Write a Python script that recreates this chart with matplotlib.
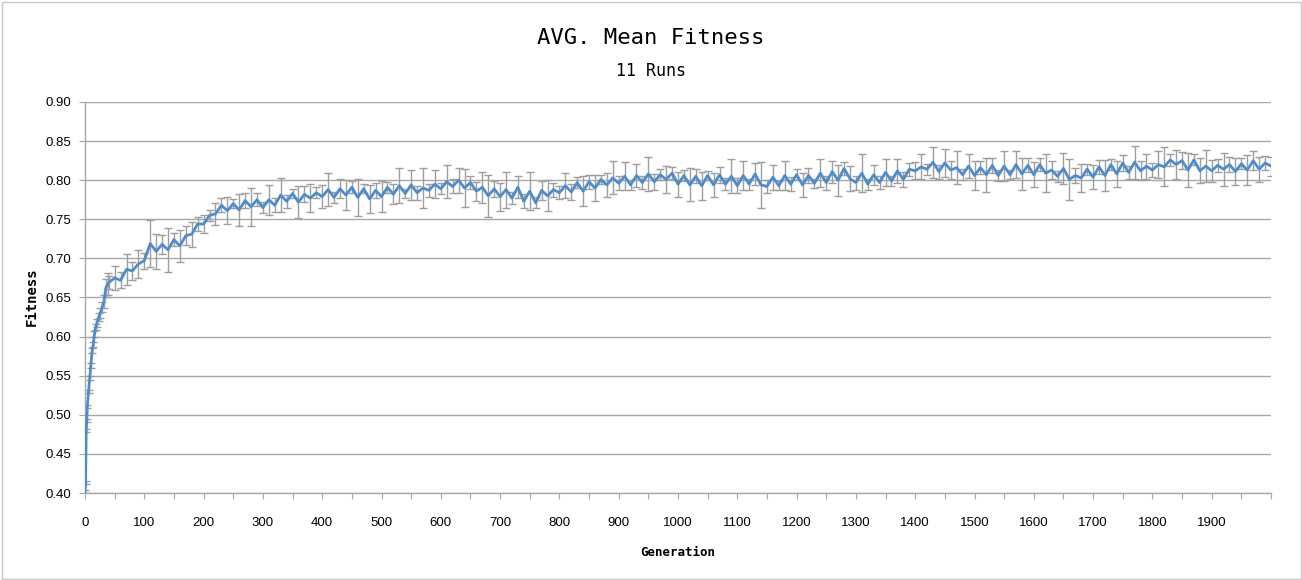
import matplotlib
matplotlib.use("Agg")
import matplotlib.pyplot as plt
from matplotlib.patches import Rectangle

TITLE = "AVG. Mean Fitness"
SUBTITLE = "11 Runs"
X_LABEL = "Generation"
Y_LABEL = "Fitness"

# early generations are sampled finer, the rest every 10 generations
early_generations = [0, 1, 2, 3, 4, 6, 8, 10, 12, 14, 16, 18, 20, 23, 26, 29, 32, 35, 38]
later_generations = list(range(40, 2001, 10))

early_fitness = [0.402, 0.413, 0.480, 0.493, 0.511, 0.530, 0.547, 0.563, 0.582, 0.590,
                 0.603, 0.612, 0.617, 0.625, 0.630, 0.638, 0.645, 0.662, 0.667]
later_fitness = [
	0.669, 0.675, 0.672, 0.686, 0.684, 0.693,
	0.697, 0.719, 0.709, 0.718, 0.711, 0.724, 0.716, 0.729, 0.731, 0.744,
	0.744, 0.755, 0.757, 0.768, 0.761, 0.770, 0.762, 0.774, 0.766, 0.775,
	0.765, 0.775, 0.768, 0.781, 0.773, 0.783, 0.772, 0.782, 0.777, 0.784,
	0.779, 0.788, 0.778, 0.789, 0.781, 0.791, 0.778, 0.789, 0.776, 0.787,
	0.779, 0.791, 0.782, 0.793, 0.783, 0.794, 0.784, 0.790, 0.787, 0.795,
	0.789, 0.798, 0.792, 0.800, 0.790, 0.797, 0.786, 0.791, 0.780, 0.789,
	0.779, 0.788, 0.777, 0.791, 0.773, 0.786, 0.771, 0.787, 0.780, 0.788,
	0.784, 0.793, 0.785, 0.797, 0.786, 0.798, 0.790, 0.801, 0.794, 0.803,
	0.796, 0.805, 0.794, 0.806, 0.797, 0.808, 0.798, 0.807, 0.801, 0.809,
	0.795, 0.806, 0.794, 0.805, 0.793, 0.806, 0.794, 0.807, 0.795, 0.805,
	0.793, 0.806, 0.795, 0.808, 0.794, 0.792, 0.804, 0.793, 0.806, 0.795,
	0.807, 0.794, 0.806, 0.796, 0.809, 0.797, 0.811, 0.800, 0.815, 0.802,
	0.797, 0.809, 0.795, 0.807, 0.797, 0.810, 0.799, 0.812, 0.801, 0.814,
	0.812, 0.817, 0.814, 0.823, 0.811, 0.822, 0.813, 0.816, 0.807, 0.818,
	0.806, 0.816, 0.807, 0.819, 0.806, 0.818, 0.807, 0.820, 0.808, 0.819,
	0.807, 0.820, 0.809, 0.813, 0.805, 0.815, 0.801, 0.806, 0.803, 0.814,
	0.804, 0.817, 0.806, 0.820, 0.808, 0.822, 0.810, 0.823, 0.812, 0.818,
	0.813, 0.820, 0.817, 0.826, 0.820, 0.825, 0.813, 0.826, 0.812, 0.818,
	0.812, 0.819, 0.814, 0.820, 0.811, 0.821, 0.813, 0.825, 0.814, 0.822,
	0.818,
]

early_error = [0.002, 0.002, 0.002, 0.002, 0.002, 0.002, 0.003, 0.003, 0.003, 0.003,
               0.004, 0.004, 0.005, 0.005, 0.006, 0.006, 0.008, 0.012, 0.014]
later_error = [
	0.008, 0.015, 0.010, 0.020, 0.012, 0.018,
	0.010, 0.030, 0.022, 0.012, 0.028, 0.008, 0.020, 0.012, 0.016, 0.009,
	0.012, 0.007, 0.014, 0.009, 0.017, 0.006, 0.020, 0.010, 0.024, 0.008,
	0.007, 0.019, 0.009, 0.022, 0.008, 0.006, 0.020, 0.010, 0.018, 0.007,
	0.015, 0.021, 0.007, 0.012, 0.019, 0.008, 0.024, 0.006, 0.018, 0.010,
	0.020, 0.007, 0.013, 0.022, 0.006, 0.019, 0.009, 0.025, 0.008, 0.018,
	0.007, 0.021, 0.009, 0.016, 0.024, 0.008, 0.012, 0.020, 0.027, 0.010,
	0.018, 0.023, 0.008, 0.014, 0.009, 0.024, 0.007, 0.012, 0.020, 0.009,
	0.008, 0.016, 0.010, 0.007, 0.019, 0.009, 0.017, 0.006, 0.015, 0.021,
	0.009, 0.018, 0.006, 0.015, 0.008, 0.022, 0.010, 0.007, 0.017, 0.008,
	0.016, 0.007, 0.021, 0.009, 0.018, 0.006, 0.015, 0.010, 0.008, 0.022,
	0.010, 0.019, 0.007, 0.014, 0.029, 0.008, 0.016, 0.006, 0.018, 0.009,
	0.007, 0.015, 0.010, 0.006, 0.018, 0.009, 0.014, 0.020, 0.008, 0.016,
	0.009, 0.024, 0.007, 0.013, 0.008, 0.017, 0.006, 0.015, 0.010, 0.008,
	0.011, 0.016, 0.007, 0.020, 0.009, 0.018, 0.012, 0.021, 0.007, 0.015,
	0.018, 0.008, 0.022, 0.010, 0.007, 0.019, 0.006, 0.017, 0.020, 0.009,
	0.016, 0.008, 0.024, 0.012, 0.007, 0.020, 0.026, 0.010, 0.018, 0.007,
	0.015, 0.009, 0.020, 0.007, 0.017, 0.010, 0.008, 0.021, 0.012, 0.016,
	0.009, 0.017, 0.025, 0.008, 0.019, 0.011, 0.022, 0.007, 0.016, 0.020,
	0.014, 0.008, 0.021, 0.010, 0.017, 0.007, 0.019, 0.012, 0.016, 0.009,
	0.012,
]

LINE_COLOR = "#4d8dcc"
ERROR_COLOR = "#9e9e9e"
GRID_COLOR = "#a8a8a8"


def main():
	generations = early_generations + later_generations
	fitness = early_fitness + later_fitness
	error = early_error + later_error

	fig = plt.figure(figsize=(13.02, 5.8), dpi=100)
	ax = fig.add_axes([85 / 1302, 1 - 493 / 580, (1271 - 85) / 1302, (493 - 102) / 580])

	ax.errorbar(generations, fitness, yerr=error, fmt="none", ecolor=ERROR_COLOR,
				elinewidth=1.0, capsize=3, capthick=1.0, zorder=2)
	ax.plot(generations, fitness, color=LINE_COLOR, linewidth=2.0, zorder=3)

	ax.set_xlim(0, 2000)
	ax.set_ylim(0.40, 0.90)

	y_ticks = [0.40 + 0.05 * i for i in range(11)]
	ax.set_yticks(y_ticks)
	ax.set_yticklabels([f"{t:.2f}" for t in y_ticks], fontfamily="Liberation Sans", fontsize=9.5)

	x_ticks = list(range(0, 2001, 50))
	x_labels = [str(t) if t % 100 == 0 and t < 2000 else "" for t in x_ticks]
	ax.set_xticks(x_ticks)
	ax.set_xticklabels(x_labels, fontfamily="Liberation Sans", fontsize=9.5)

	ax.tick_params(axis="x", length=4, width=0.8, color=GRID_COLOR, pad=13)
	ax.tick_params(axis="y", length=4, width=0.8, color=GRID_COLOR, pad=6)

	ax.yaxis.grid(True, color=GRID_COLOR, linewidth=1.0)
	ax.set_axisbelow(True)
	for side in ["top", "right"]:
		ax.spines[side].set_visible(False)
	for side in ["left", "bottom"]:
		ax.spines[side].set_color(GRID_COLOR)
		ax.spines[side].set_linewidth(1.0)

	fig.text(0.5, 1 - 38 / 580, TITLE, ha="center", va="center",
			 fontfamily="DejaVu Sans Mono", fontsize=16)
	fig.text(0.5, 1 - 71 / 580, SUBTITLE, ha="center", va="center",
			 fontfamily="DejaVu Sans Mono", fontsize=12)
	fig.text(678 / 1302, 1 - 553 / 580, X_LABEL, ha="center", va="center",
			 fontfamily="DejaVu Sans Mono", fontweight="bold", fontsize=9)
	fig.text(32 / 1302, 1 - 297 / 580, Y_LABEL, ha="center", va="center", rotation=90,
			 fontfamily="DejaVu Sans Mono", fontweight="bold", fontsize=10)

	fig.add_artist(Rectangle((1.5 / 1302, 1.5 / 580), 1 - 3 / 1302, 1 - 3 / 580,
							 transform=fig.transFigure, fill=False,
							 edgecolor="#c8c8c8", linewidth=1.0))

	fig.savefig("out.png", dpi=100)


if __name__ == "__main__":
	main()
